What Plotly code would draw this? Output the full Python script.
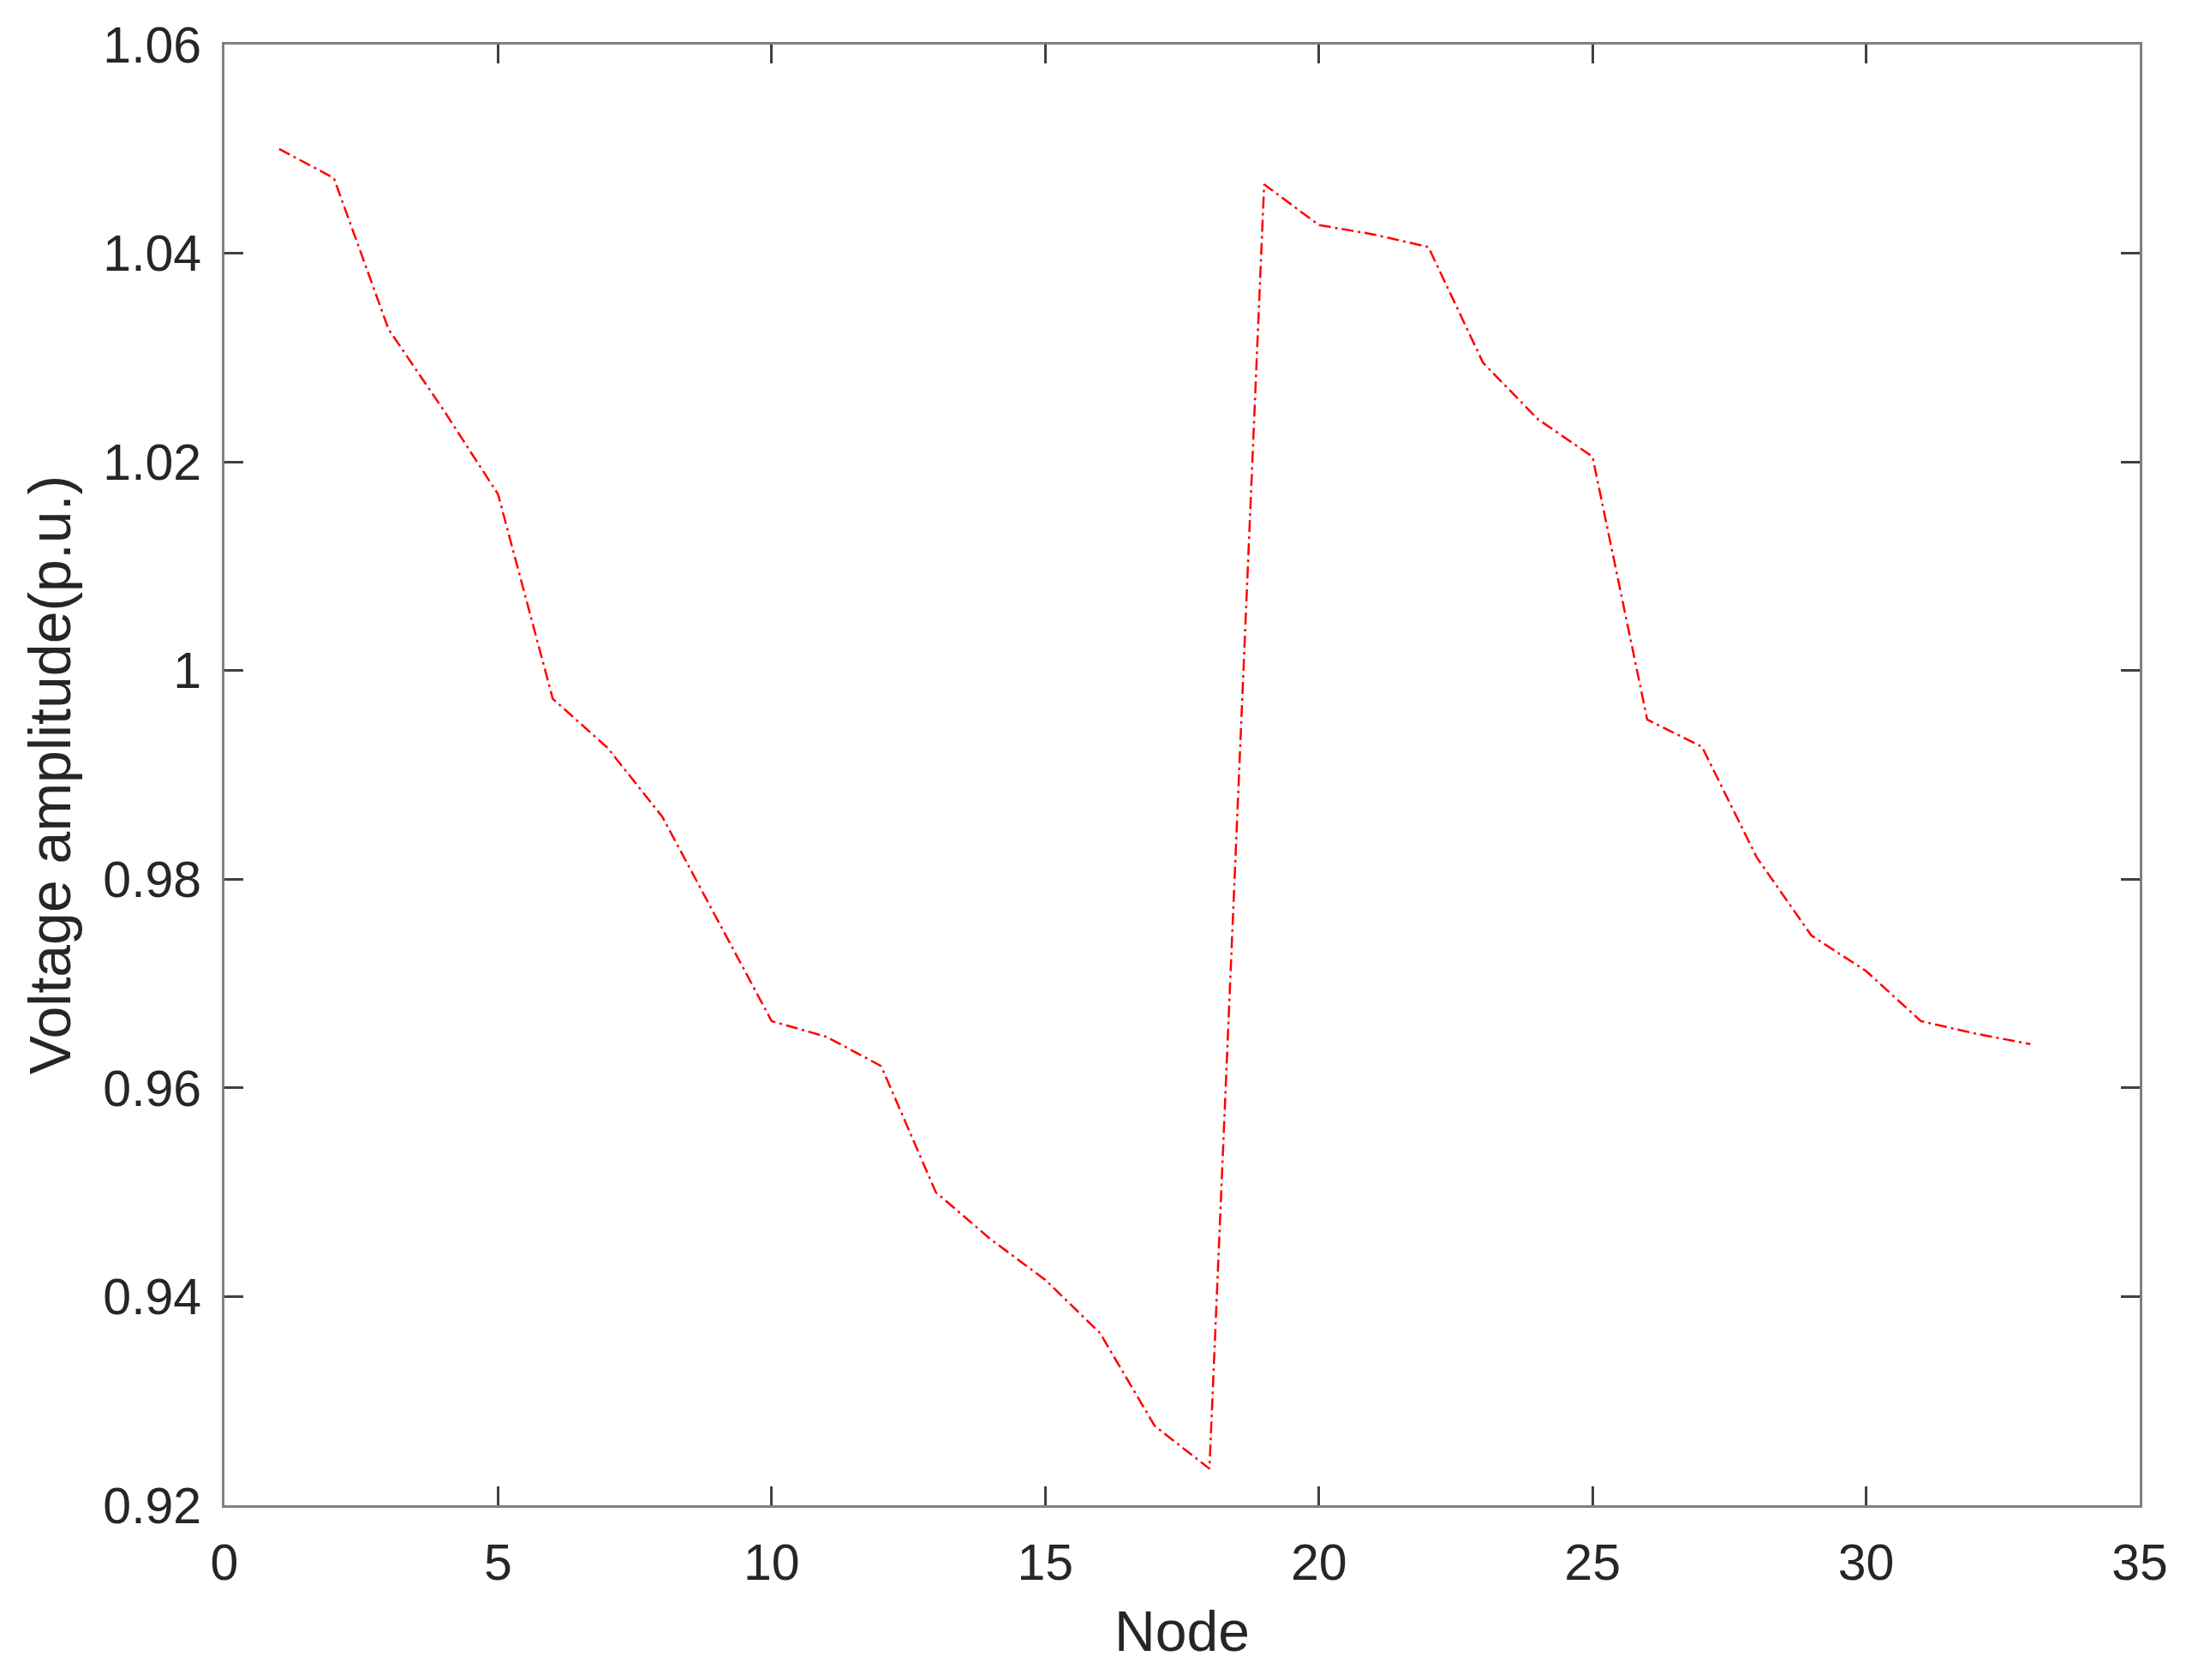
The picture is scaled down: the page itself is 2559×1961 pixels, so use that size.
import plotly.graph_objects as go

# node index and voltage magnitude (p.u.)
nodes = list(range(1, 34))
voltage = [1.0500, 1.0472, 1.0327, 1.0250, 1.0169, 0.9973, 0.9926, 0.9860,
           0.9762, 0.9664, 0.9649, 0.9621, 0.9500, 0.9455, 0.9416, 0.9365,
           0.9276, 0.9235, 1.0466, 1.0427, 1.0418, 1.0406, 1.0295, 1.0241,
           1.0205, 0.9953, 0.9927, 0.9821, 0.9746, 0.9712, 0.9664, 0.9652,
           0.9642]

x_ticks = [0, 5, 10, 15, 20, 25, 30, 35]
y_ticks = [0.92, 0.94, 0.96, 0.98, 1.00, 1.02, 1.04, 1.06]
y_labels = ["0.92", "0.94", "0.96", "0.98", "1", "1.02", "1.04", "1.06"]

font_name = "Liberation Sans, Arial, sans-serif"
text_col = "#262626"

fig = go.Figure()
fig.add_trace(go.Scatter(
    x=nodes, y=voltage, mode="lines",
    line=dict(color="#ff0000", width=2.5, dash="14px,5px,3px,5px"),
    showlegend=False,
))

axis_common = dict(
    showline=True, linecolor="#808080", linewidth=3, mirror="ticks",
    ticks="inside", ticklen=22, tickwidth=3, tickcolor="#404040",
    showgrid=False, zeroline=False,
    tickfont=dict(family=font_name, size=59, color=text_col),
)

fig.update_xaxes(
    range=[0, 35], tickvals=x_ticks, ticklabelstandoff=13,
    title=dict(text="Node", font=dict(family=font_name, size=66, color=text_col), standoff=26),
    **axis_common,
)
fig.update_yaxes(
    range=[0.92, 1.06], tickvals=y_ticks, ticktext=y_labels, ticklabelstandoff=12,
    title=dict(text="Voltage amplitude(p.u.)", font=dict(family=font_name, size=68, color=text_col), standoff=16),
    **axis_common,
)

fig.update_layout(
    width=2559, height=1961,
    margin=dict(l=254, r=69, t=42, b=212),
    plot_bgcolor="white", paper_bgcolor="white",
)

fig.write_html("out.html")
